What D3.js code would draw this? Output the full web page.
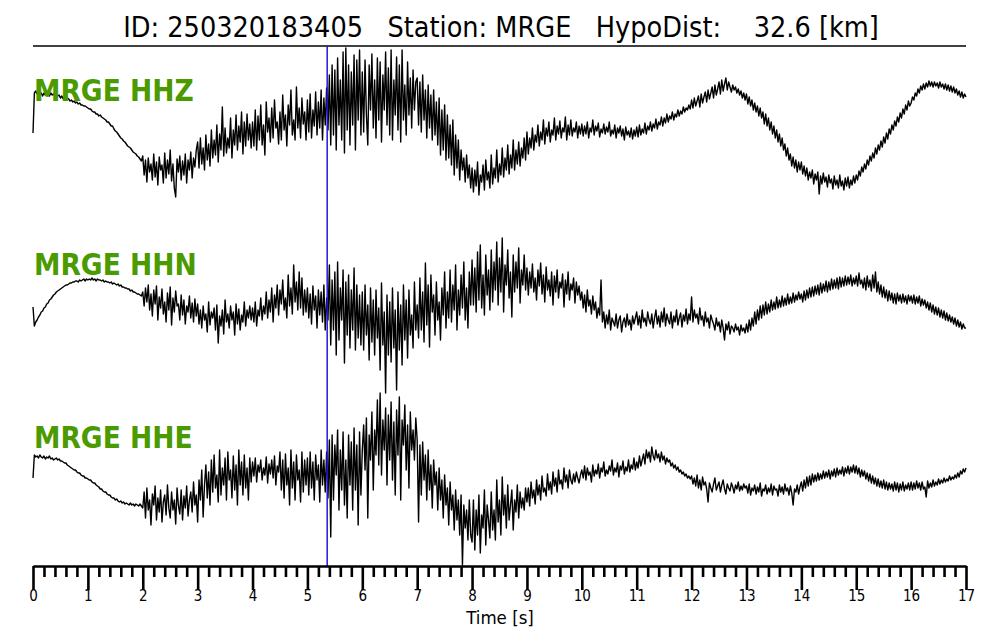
<!DOCTYPE html>
<html><head><meta charset="utf-8">
<script src="https://cdn.jsdelivr.net/npm/d3@7"></script>
<style>body{margin:0;background:#fff}svg{display:block}text{white-space:pre}</style>
</head><body>
<svg id="c" width="1000" height="640"></svg>
<script>
const title = "ID: 250320183405   Station: MRGE   HypoDist:    32.6 [km]";
const xLabel = "Time [s]";
const channels = ["MRGE HHZ", "MRGE HHN", "MRGE HHE"];
const pickTime = 5.36;
const majorTicks = [0,1,2,3,4,5,6,7,8,9,10,11,12,13,14,15,16,17];

// one row per second of record (samples evenly spread inside the second); last value = t 17 s
const hhz = [
[-13,27,29,26,28,25,27,24,27,25,28,26,24,27,25,26,23,26,24,25,22,24,21,23,20,22,21,19,20,18,19,17,18,16,17,15,15,14,14,13],
[12,11,11,9,8,8,6,6,4,5,3,2,1,0,-2,-2,-4,-6,-6,-9,-11,-12,-14,-16,-18,-19,-21,-22,-24,-26,-27,-28,-30,-32,-33,-34,-36,-37,-39,-41],
[-36,-55,-40,-62,-38,-52,-44,-60,-34,-57,-42,-65,-37,-50,-45,-63,-33,-58,-40,-54,-30,-61,-44,-68,-77,-39,-52,-36,-60,-41,-55,-34,-63,-40,-50,-32,-58,-38,-47,-30],
[-22,-48,-18,-44,-28,-50,-15,-40,-24,-46,-10,-38,-20,-35,-5,-42,-14,-30,13,-36,-8,-33,-18,-28,2,-38,-10,-25,5,-30,-6,-22,8,-34,-2,-26,6,-20,-4,-28],
[-2,-26,10,-30,4,-20,15,-25,-5,-35,18,-12,2,-22,12,-18,20,-8,-2,-24,8,-20,25,-10,5,-26,15,-5,30,-15,0,-20,33,-8,12,-18,22,-4,8,-20],
[20,-12,26,-18,10,-6,28,-15,18,-8,30,-20,22,-5,32,-10,45,-25,55,-15,50,-30,62,-5,40,-20,68,-33,72,-10,55,-25,48,-5,65,-30,60,0,70,-15],
[48,-12,60,5,-25,55,10,66,-8,40,-18,62,0,58,-22,45,10,68,-5,52,-15,70,-20,40,5,63,-10,55,-22,70,0,35,-15,58,5,42,-8,50,10,38],
[42,-5,38,-12,45,0,30,-18,35,-8,25,-20,30,-15,18,-25,22,-35,10,-30,15,-40,5,-38,-5,-45,0,-55,-15,-48,-20,-60,-30,-50,-38,-62,-35,-58,-45,-68],
[-48,-72,-50,-66,-42,-75,-55,-62,-45,-70,-40,-60,-52,-68,-35,-64,-48,-58,-30,-62,-44,-55,-28,-57,-38,-50,-25,-54,-35,-48,-20,-50,-30,-44,-22,-46,-28,-38,-18,-40],
[-12,-34,-18,-28,-8,-30,-15,-22,-5,-26,-12,-20,0,-24,-8,-16,-2,-22,-10,-15,2,-20,-6,-14,-1,-18,-8,-12,3,-20,-5,-15,0,-16,-8,-12,-2,-18,-6,-14],
[-4,-16,-6,-14,-2,-18,-8,-12,0,-15,-6,-11,-3,-17,-9,-13,-4,-14,-7,-12,-2,-16,-10,-14,-5,-18,-8,-13,-6,-16,-9,-20,-7,-15,-11,-17,-8,-19,-10,-16],
[-7,-17,-5,-15,-9,-13,-3,-14,-6,-10,-2,-11,-4,-8,1,-9,-2,-5,3,-6,2,-3,6,-2,4,1,8,0,6,3,10,4,9,6,13,8,12,10,15,11],
[20,12,22,14,19,24,13,26,17,23,28,18,30,21,27,33,22,35,25,31,38,26,40,29,36,42,30,38,33,28,35,30,33,27,31,25,29,22,27,20],
[26,16,23,14,20,10,17,8,14,4,12,2,8,-4,6,-6,2,-10,-2,-14,-6,-18,-10,-22,-14,-26,-18,-30,-24,-36,-28,-40,-34,-46,-37,-48,-40,-52,-42,-50],
[-42,-54,-46,-56,-48,-60,-52,-58,-50,-64,-54,-60,-52,-74,-56,-64,-53,-62,-57,-67,-55,-63,-59,-69,-56,-65,-60,-68,-55,-66,-61,-70,-58,-66,-57,-68,-60,-65,-56,-63],
[-55,-60,-51,-56,-47,-52,-44,-49,-40,-45,-36,-41,-33,-38,-28,-34,-25,-30,-21,-27,-17,-23,-13,-19,-9,-14,-5,-10,-1,-6,3,-2,7,2,11,6,15,10,19,14],
[17,23,20,27,24,31,27,34,30,36,31,37,33,39,34,38,33,38,34,37,32,38,33,36,31,36,30,35,29,34,28,33,27,31,25,29,23,28,22,26],
[23]];

const hhn = [
[-7,-26,-22,-20,-17,-15,-12,-11,-8,-7,-4,-3,0,1,3,5,6,8,9,10,11,12,13,14,15,15,16,17,17,18,18,19,19,18,20,19,20,21,19,21],
[20,21,20,22,20,21,19,21,20,20,19,20,18,19,18,18,17,18,16,17,16,15,16,14,15,13,13,12,12,11,11,9,10,8,8,7,6,6,5,4],
[8,-6,12,-2,15,-10,6,-16,10,-4,14,-20,3,-8,11,-14,-2,-22,7,-10,13,-25,2,-12,9,-6,-4,-20,5,-15,0,-24,-6,-12,4,-18,-3,-22,1,-16],
[-4,-24,-10,-28,-6,-20,-14,-32,-2,-25,-12,-18,-8,-30,-5,-43,-16,-26,-10,-34,0,-22,-14,-28,-6,-20,-12,-35,-4,-24,-9,-30,-15,-22,-2,-26,-10,-18,-6,-20],
[-8,-22,-2,-26,-10,-16,2,-20,-6,-14,8,-18,0,-12,12,-22,5,-8,15,-15,10,-4,20,-10,2,-18,25,-6,12,-14,35,-2,18,-10,28,-8,22,-15,10,-12],
[12,-18,6,-24,14,-10,4,-28,10,-15,8,-22,15,-30,2,-20,35,-45,20,-30,28,-55,38,-40,12,-20,30,-63,18,-35,25,-48,10,-30,32,-50,15,-38,5,-45],
[8,-50,15,-35,-5,-60,12,-42,0,-55,10,-38,-8,-70,17,-45,-12,-93,5,-55,-2,-62,12,-48,-10,-90,8,-50,-5,-65,15,-40,0,-58,10,-35,-15,-48,18,-30],
[-5,-38,22,-30,8,-42,37,-25,15,-47,25,-12,5,-35,18,-20,-2,-40,12,-15,28,-28,8,-18,30,-22,15,-10,35,-30,10,-15,25,-8,38,-20,12,-28,28,-5],
[40,-5,32,-12,48,0,55,-8,25,-15,45,5,30,-10,50,-2,38,10,58,-5,42,8,62,-12,35,15,50,2,28,-17,45,8,38,12,52,-3,30,15,45,10],
[32,5,28,12,36,8,22,0,30,14,37,6,25,-2,33,10,20,4,28,-5,24,8,30,2,18,12,26,-7,20,6,28,0,16,10,22,-3,18,5,14,0],
[8,-8,5,-12,10,-6,0,-14,4,-10,-2,-18,-8,-15,20,-22,-12,-28,-15,-24,-10,-30,-18,-22,-26,-14,-28,-20,-16,-32,-22,-18,-27,-14,-25,-20,-30,-16,-24,-18],
[-12,-25,-16,-28,-10,-22,-18,-26,-12,-20,-24,-14,-28,-18,-10,-24,-16,-27,-12,-22,-8,-26,-14,-20,-24,-12,-28,-16,-22,-10,-25,-18,-13,-27,-15,-21,-9,-24,-14,-20],
[3,-22,-10,-18,-14,-24,-8,-20,-16,-26,-12,-22,-18,-28,-15,-20,-24,-30,-18,-26,-22,-32,-20,-28,-40,-24,-30,-22,-34,-26,-28,-32,-24,-30,-27,-35,-25,-31,-28,-33],
[-24,-32,-20,-30,-18,-26,-12,-24,-10,-20,-6,-18,-5,-15,-2,-14,-4,-12,0,-10,-2,-9,3,-8,0,-7,4,-6,2,-5,6,-4,3,-3,7,-2,5,0,8,1],
[6,-2,9,0,10,2,12,3,13,4,14,6,15,5,17,7,16,9,19,8,18,10,21,11,20,12,22,11,23,13,22,14,24,15,23,16,25,14,22,16],
[24,14,27,16,20,12,22,10,24,13,20,9,25,12,28,8,18,6,15,3,13,2,10,-1,9,0,7,-3,6,-4,7,-1,5,-3,6,-2,4,-4,5,-1],
[4,-3,5,-4,3,-3,4,-6,1,-5,0,-8,-2,-10,-3,-12,-5,-14,-7,-15,-8,-17,-10,-18,-11,-20,-13,-21,-15,-22,-17,-24,-18,-26,-20,-27,-22,-29,-24,-28],
[-28]];

const hhe = [
[2,25,23,24,22,25,23,22,24,21,23,22,24,21,22,20,21,22,20,21,19,19,18,17,17,15,14,13,12,11,10,10,8,7,7,5,4,4,2,2],
[1,0,0,-2,-3,-3,-5,-6,-7,-9,-9,-11,-12,-12,-14,-15,-15,-17,-18,-18,-20,-19,-21,-22,-21,-23,-22,-24,-23,-24,-25,-23,-25,-24,-26,-24,-25,-26,-24,-26],
[-28,-12,-38,-8,-30,-20,-45,-14,-25,-6,-40,-18,-32,-10,-42,-22,-15,-35,-5,-28,-38,-12,-30,-20,-44,-8,-26,-34,-10,-40,-16,-28,-6,-36,-20,-12,-32,-2,-25,-15],
[-42,0,-20,10,-37,-5,15,-18,8,-25,20,-12,25,-8,5,-22,30,-15,12,-5,22,-20,28,0,10,-18,24,-10,15,-25,30,-5,18,-15,25,-8,12,-20,22,-2],
[18,4,22,-2,15,8,20,0,12,5,23,-3,16,6,20,2,24,-5,14,8,28,-10,20,-18,26,-5,12,-25,30,-8,18,-20,25,0,10,-22,28,-12,20,-5],
[22,-15,28,-8,18,-20,25,0,15,-22,30,-5,20,-12,28,-18,40,-57,45,-20,35,5,50,-30,30,-10,48,-25,20,-38,45,-5,38,-30,52,-10,35,-45,48,-15],
[30,55,10,62,-38,45,20,68,-10,50,25,80,15,87,5,60,30,72,-5,65,20,78,0,58,-15,70,25,83,-20,60,35,75,10,55,-8,68,30,50,20,62],
[40,-42,35,-15,38,0,25,-20,30,-10,15,-28,20,-5,8,-30,12,-20,0,-38,5,-25,-8,-45,-2,-30,-15,-50,-10,-40,-20,-55,-15,-85,-25,-48,-30,-60,-20,-55],
[-62,-20,-70,-30,-55,-15,-73,-35,-48,-10,-65,-25,-40,-58,-12,-50,-30,-60,0,-42,-20,-55,3,-35,-15,-48,-5,-40,-25,-10,-50,-20,-32,-5,-38,-12,-28,-18,-30,-8],
[-22,-8,-26,-2,-18,-10,-24,0,-15,-5,-20,4,-12,-8,-16,6,-10,-2,-14,8,-6,2,-12,10,-4,0,-9,12,-2,5,-8,10,0,-4,6,-2,8,2,-3,5],
[10,2,14,0,12,5,8,-2,15,4,10,6,16,2,12,8,18,4,10,6,14,9,20,5,12,8,17,3,14,10,19,6,13,9,20,8,15,11,22,10],
[18,12,24,14,20,26,16,30,22,28,18,33,24,20,30,22,26,18,28,20,24,16,22,18,20,14,17,12,15,10,13,8,10,6,8,4,6,2,4,1],
[4,-4,2,-6,5,-8,0,-10,3,-5,-2,-9,-22,-3,-8,-12,-4,2,-10,-6,-2,-12,-5,0,-9,-14,-4,-8,-11,-3,-7,-13,-5,-9,-2,-11,-6,-10,-4,-8],
[-6,-13,-4,-15,-8,-11,-5,-14,-7,-12,-3,-16,-9,-11,-5,-14,-8,-12,-4,-15,-6,-10,-9,-16,-5,-12,-7,-14,-4,-11,-8,-15,-6,-13,-25,-9,-12,-5,-14,-7],
[-2,-11,0,-8,3,-6,4,-5,6,-2,5,-1,7,0,6,1,9,2,8,3,10,1,9,4,11,3,12,5,10,6,13,4,12,7,14,6,13,8,15,7],
[14,6,12,3,10,4,9,1,7,-1,6,-3,4,-4,2,-6,1,-7,-1,-8,0,-9,-2,-10,-3,-9,-4,-11,-2,-10,-3,-12,-4,-10,-2,-11,-5,-9,-3,-10],
[-2,-10,-3,-9,-1,-8,-3,-10,-2,-9,-7,-17,-1,-8,-3,-7,0,-6,-2,-5,1,-4,0,-3,2,-2,1,-1,4,0,3,1,5,2,7,3,9,6,11,8],
[12]];

const traces = [hhz, hhn, hhe];
const traceCenters = [120, 300, 480];
const labelBaselines = [101, 275, 448];

const FONT = "'DejaVu Sans Condensed','DejaVu Sans',sans-serif";
const svg = d3.select("#c");
const plotLeft = 33, plotRight = 966, plotTop = 46, axisY = 566;
const x = d3.scaleLinear().domain([0, 17]).range([plotLeft, plotRight]);

svg.append("text").attr("x", 501).attr("y", 37).attr("text-anchor", "middle")
  .attr("font-family", FONT).attr("font-size", 28.5).attr("fill", "#000").text(title);
svg.append("line").attr("x1", plotLeft).attr("x2", plotRight).attr("y1", plotTop).attr("y2", plotTop)
  .attr("stroke", "#000").attr("stroke-width", 1.6);

traces.forEach((rows, k) => {
  const pts = [];
  rows.forEach((row, s) => row.forEach((v, i) => pts.push([s + i / row.length, v])));
  const y = d3.scaleLinear().domain([-100, 100]).range([traceCenters[k] + 100, traceCenters[k] - 100]);
  const line = d3.line().x(d => x(d[0])).y(d => y(d[1]));
  svg.append("path").datum(pts).attr("d", line).attr("fill", "none")
    .attr("stroke", "#000").attr("stroke-width", 1.4).attr("stroke-linejoin", "round");
  svg.append("text").attr("x", 34).attr("y", labelBaselines[k])
    .attr("font-family", FONT).attr("font-weight", "bold").attr("font-size", 29.5)
    .attr("fill", "#4a9a00").text(channels[k]);
});

svg.append("line").attr("x1", x(pickTime)).attr("x2", x(pickTime)).attr("y1", plotTop).attr("y2", axisY)
  .attr("stroke", "#1a1adc").attr("stroke-width", 1.5);

const minorVals = d3.range(0, 85).map(i => i / 5).filter(v => Math.abs(v - Math.round(v)) > 1e-6);
const minorAxis = d3.axisBottom(x).tickValues(minorVals).tickSize(11).tickSizeOuter(0).tickFormat("");
const majorAxis = d3.axisBottom(x).tickValues(majorTicks).tickSize(24).tickSizeOuter(0).tickPadding(4).tickFormat(d3.format("d"));
const gm = svg.append("g").attr("transform", `translate(0,${axisY})`).call(minorAxis);
const gM = svg.append("g").attr("transform", `translate(0,${axisY})`).call(majorAxis);
[gm, gM].forEach(g => {
  g.select(".domain").attr("stroke", "#000").attr("stroke-width", 2.2);
  g.selectAll(".tick line").attr("stroke", "#000").attr("stroke-width", 2.6);
});
gM.selectAll(".tick text").attr("font-family", FONT).attr("font-size", 15).attr("fill", "#000").attr("dy", "0.45em");
svg.append("text").attr("x", 500).attr("y", 624).attr("text-anchor", "middle")
  .attr("font-family", FONT).attr("font-size", 18.5).attr("fill", "#000").text(xLabel);
</script>
</body></html>
